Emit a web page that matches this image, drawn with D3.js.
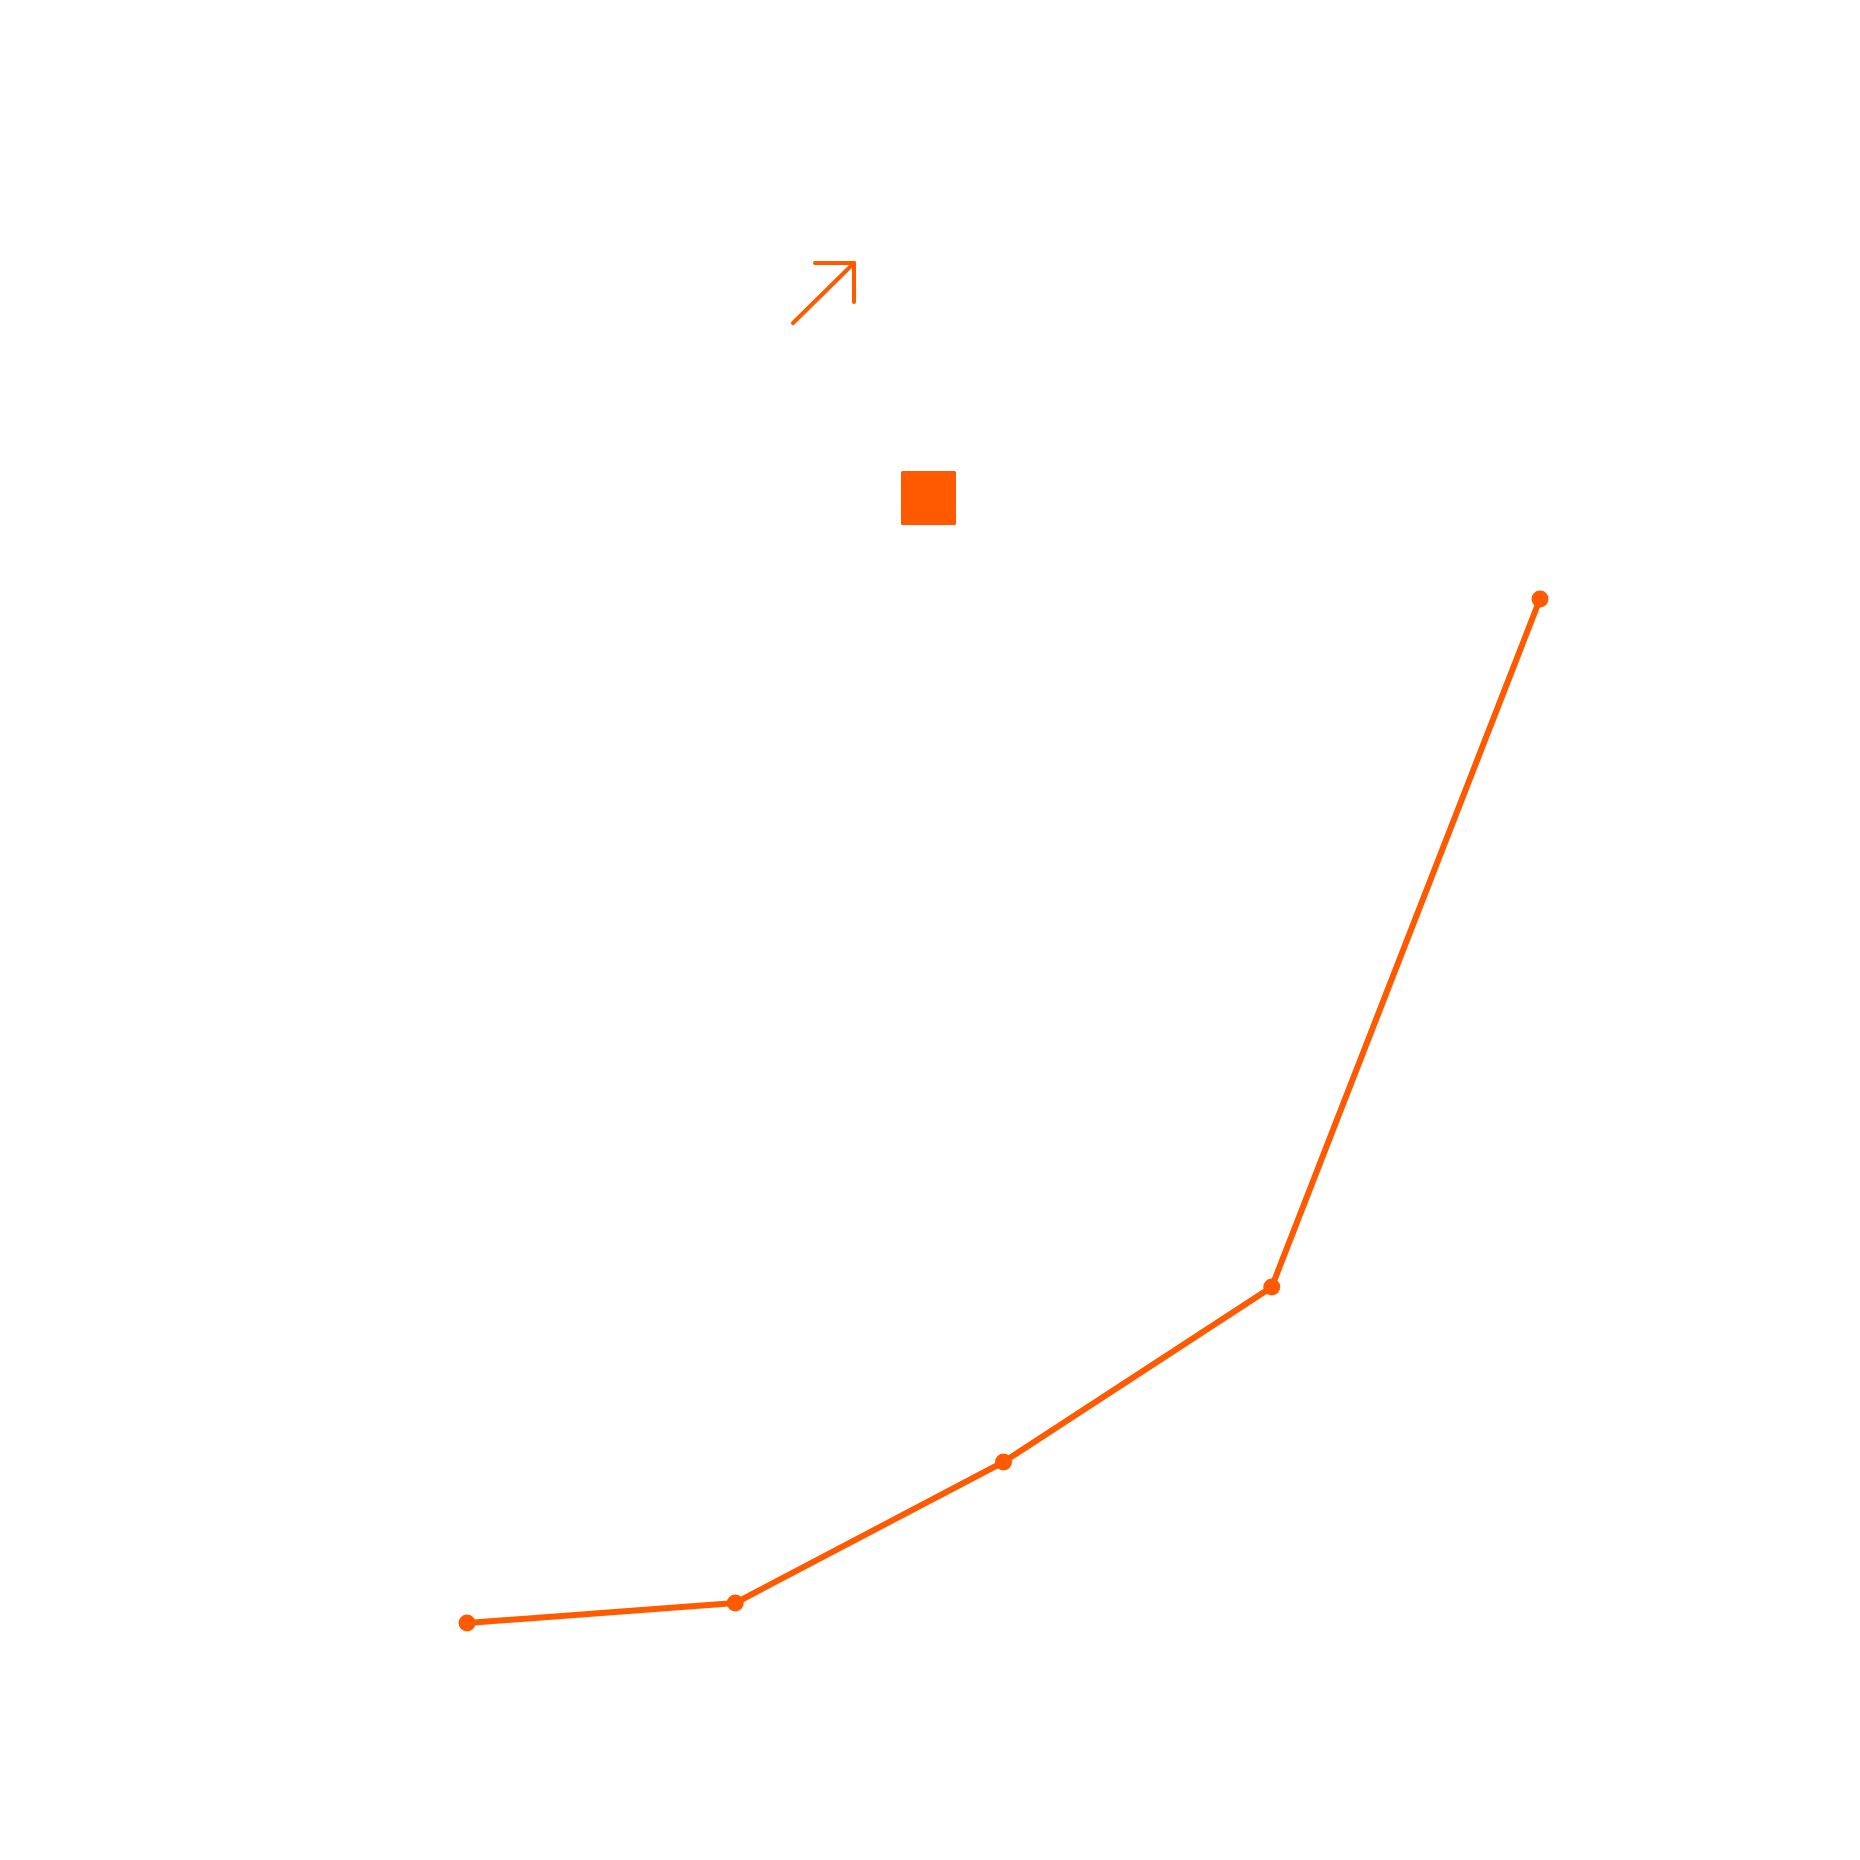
<!DOCTYPE html>
<html>
<head>
<meta charset="utf-8">
<script src="https://cdn.jsdelivr.net/npm/d3@7"></script>
<style>
  html, body { margin: 0; padding: 0; background: #fff; }
  svg { display: block; }
</style>
</head>
<body>
<svg id="chart" width="1860" height="1860"></svg>
<script>
const categories = ["A", "B", "C", "D", "E"];
const values = [5.0, 7.0, 21.1, 38.6, 107.4];
const color = "#ff5a00";

const svg = d3.select("#chart");
const x = d3.scalePoint().domain(categories).range([467, 1540]);
const y = d3.scaleLinear().domain([0, 120]).range([1673, 473]);

const data = categories.map((c, i) => ({ c, v: values[i] }));

// trend arrow icon
const icon = svg.append("g").attr("fill", "none").attr("stroke", color)
  .attr("stroke-width", 4).attr("stroke-linecap", "round").attr("stroke-linejoin", "round");
icon.append("path").attr("d", "M793,323 L854,263");
icon.append("path").attr("d", "M815,263 L854,263 L854,302");

// legend swatch
svg.append("rect").attr("x", 901).attr("y", 471).attr("width", 55).attr("height", 54)
  .attr("rx", 1.5).attr("fill", color);

// line
const line = d3.line().x(d => x(d.c)).y(d => y(d.v));
svg.append("path").datum(data).attr("d", line).attr("fill", "none")
  .attr("stroke", color).attr("stroke-width", 6).attr("stroke-linejoin", "round");

svg.selectAll("circle.pt").data(data).join("circle").attr("class", "pt")
  .attr("cx", d => x(d.c)).attr("cy", d => y(d.v)).attr("r", 8.5).attr("fill", color);
</script>
</body>
</html>
